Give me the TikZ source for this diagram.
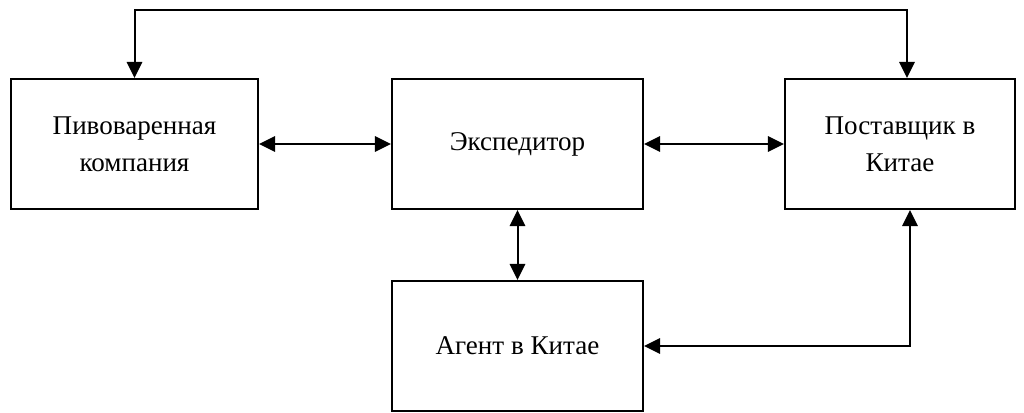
\documentclass[tikz,border=0pt]{standalone}
\usepackage{fontspec}
\setmainfont{Liberation Serif}
\usetikzlibrary{arrows.meta}
\begin{document}
\begin{tikzpicture}[x=0.75pt,y=-0.75pt,
  box/.style={draw, line width=1.6pt, inner sep=0pt, align=center,
    font=\fontsize{20.3}{27.5}\selectfont},
  conn/.style={line width=1.5pt, {Triangle[length=12pt,width=11.5pt]}-{Triangle[length=12pt,width=11.5pt]}}]
\useasboundingbox (0,0) rectangle (1024,412);
\node[box, minimum width=185.25pt, minimum height=97.5pt] (b1) at (134.5,144) {Пивоваренная\\компания};
\node[box, minimum width=188.25pt, minimum height=97.5pt] (b2) at (517.5,144) {Экспедитор};
\node[box, minimum width=172.5pt, minimum height=97.5pt] (b3) at (900,144) {Поставщик в\\Китае};
\node[box, minimum width=188.25pt, minimum height=97.5pt] (b4) at (517.5,346) {Агент в Китае};
\coordinate (top) at (0,10);
\coordinate (t3) at (907,0);
\coordinate (r3) at (910,0);
\draw[conn] (b1.north) -- (b1.north |- top) -- (t3 |- top) -- (t3 |- b3.north);
\draw[conn] (b1.east) -- (b2.west);
\draw[conn] (b2.east) -- (b3.west);
\draw[conn] (b2.south) -- (b4.north);
\draw[conn] (r3 |- b3.south) -- (r3 |- b4.east) -- (b4.east);
\end{tikzpicture}
\end{document}
